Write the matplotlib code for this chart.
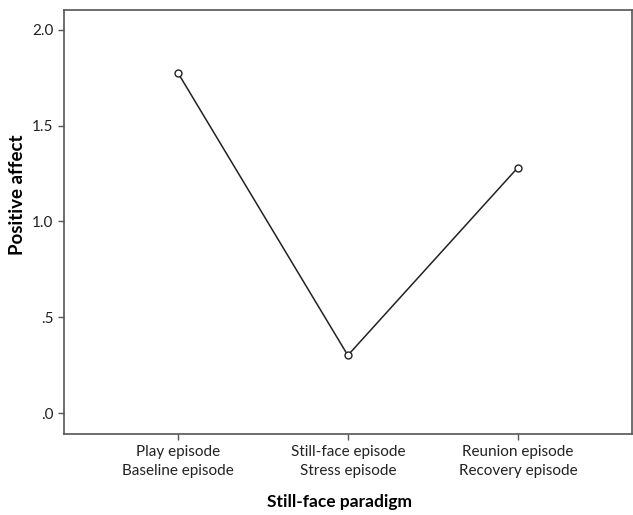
import matplotlib.pyplot as plt

categories = ["Play episode\nBaseline episode",
              "Still-face episode\nStress episode",
              "Reunion episode\nRecovery episode"]
positive_affect = [1.776, 0.302, 1.281]
yticks = [0.0, 0.5, 1.0, 1.5, 2.0]
ytick_labels = [".0", ".5", "1.0", "1.5", "2.0"]

plt.rcParams['font.family'] = ['Lato', 'DejaVu Sans']

fig = plt.figure(figsize=(6.33, 5.15), dpi=100)
ax = fig.add_axes([0.101, 0.157, 0.897, 0.824])

x = list(range(len(categories)))
ax.plot(x, positive_affect, color='#222222', linewidth=1.1,
        marker='o', markersize=5, markerfacecolor='white',
        markeredgecolor='#222222', markeredgewidth=1.0)

ax.set_xlim(-0.67, 2.67)
ax.set_ylim(-0.109, 2.104)
ax.set_xticks(x)
ax.set_xticklabels(categories, fontsize=11, color='#222222', linespacing=1.45)
ax.set_yticks(yticks)
ax.set_yticklabels(ytick_labels, fontsize=11, color='#222222')

for s in ax.spines.values():
    s.set_color('#555555')
    s.set_linewidth(1.2)
ax.tick_params(axis='both', direction='out', length=4, color='#555555', width=1)

ax.set_ylabel("Positive affect", fontsize=13.5, fontweight='bold')
ax.yaxis.set_label_coords(-0.067, 0.565)
ax.set_xlabel("Still-face paradigm", fontsize=12.5, fontweight='bold')
ax.xaxis.set_label_coords(0.486, -0.142)

fig.savefig("out.png", dpi=100)
